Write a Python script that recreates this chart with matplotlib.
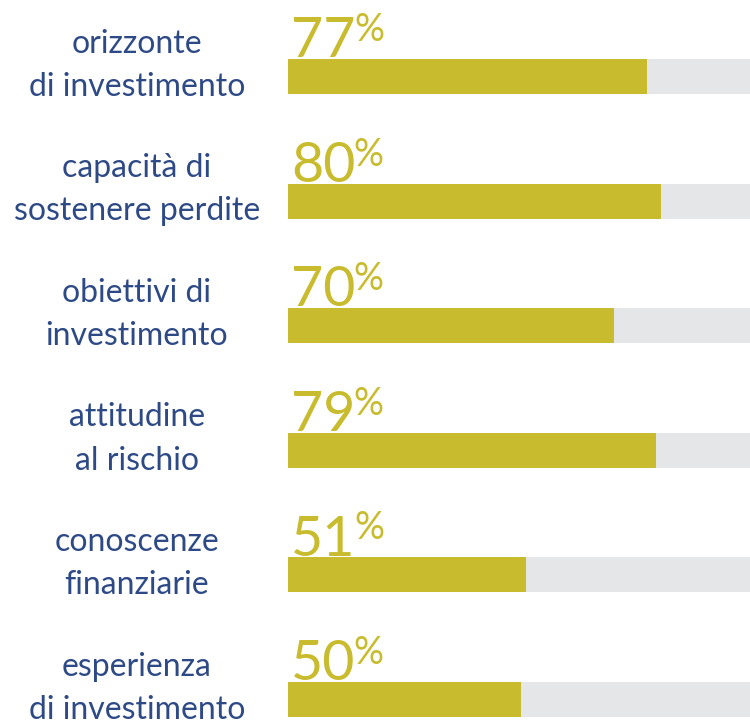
import matplotlib
matplotlib.use("Agg")
import matplotlib.pyplot as plt

labels = ["orizzonte\ndi investimento", "capacità di\nsostenere perdite",
          "obiettivi di\ninvestimento", "attitudine\nal rischio",
          "conoscenze\nfinanziarie", "esperienza\ndi investimento"]
values = [77, 80, 70, 79, 51, 50]

bar_color = "#C8BC2E"
track_color = "#E5E6E8"
label_color = "#2E4A86"

plt.rcParams["font.family"] = ["Lato", "DejaVu Sans"]

fig = plt.figure(figsize=(7.5, 7.21), dpi=100)
ax = fig.add_axes([288 / 750, 0, 462 / 750, 1])
ypos = list(range(len(values)))

ax.barh(ypos, [100] * len(values), height=0.281, color=track_color, left=0)
ax.barh(ypos, values, height=0.281, color=bar_color, left=0)

for i, (lab, v) in enumerate(zip(labels, values)):
    num = ax.text(0.6, i - 0.155, str(v), fontsize=40, color=bar_color,
                  va="baseline", ha="left")
    ax.annotate("%", xy=(1, 1), xycoords=num, xytext=(-1, 3),
                textcoords="offset points", fontsize=27, color=bar_color,
                va="top", ha="left")
    ax.text(-0.327, i - 0.09, lab, transform=ax.get_yaxis_transform(),
            fontsize=23, color=label_color, ha="center", va="center",
            linespacing=1.55)

ax.set_xlim(0, 100 * 462 / 466)
ax.set_ylim(5.173, -0.614)
ax.axis("off")

fig.savefig("out.png", dpi=100)
